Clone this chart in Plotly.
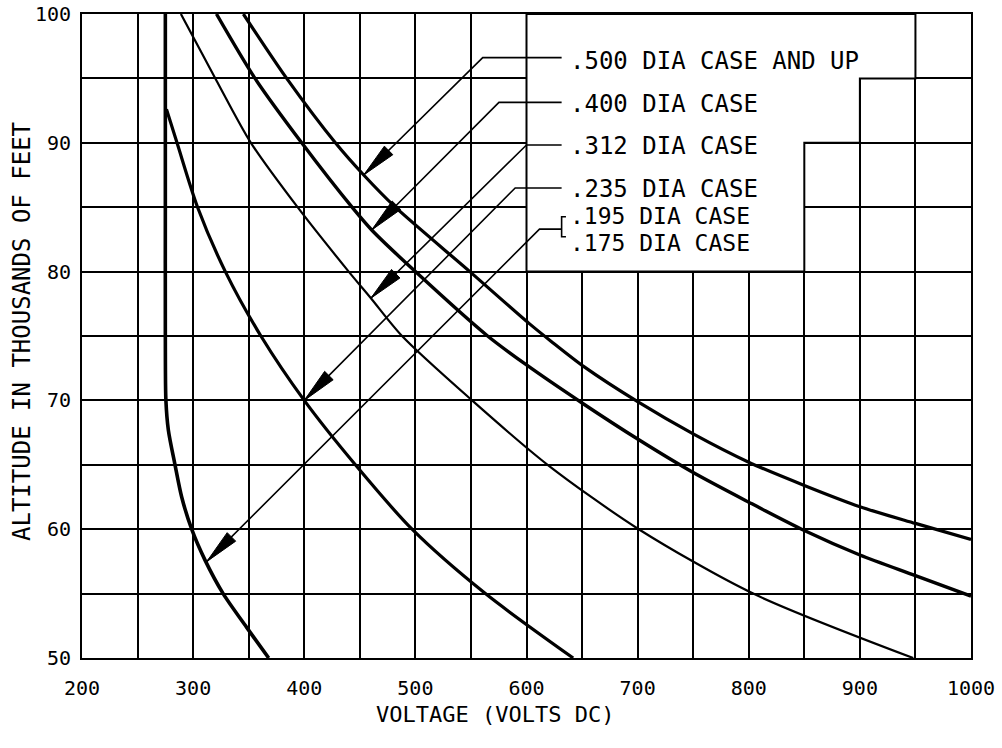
import plotly.graph_objects as go

# ---------------- data (voltage in V DC, altitude in thousands of feet) -------------
v_195 = [275, 275, 275, 275.5, 277.7, 283.7, 289.7, 298.7, 310.7, 327, 348, 368]
a_195 = [100, 85, 75, 70, 67.7, 65, 62.5, 60, 57.6, 55, 52.4, 50]

v_235 = [276, 285.5, 304, 329, 361, 400, 446, 497, 563, 642]
a_235 = [92.6, 90, 85, 80, 75, 70, 65, 60, 55, 50]

v_312 = [289, 320, 352, 394, 440, 460, 488, 551, 619, 701, 804, 948]
a_312 = [100, 95, 90, 85, 80, 77.93, 75, 70, 65, 60, 55, 50]

v_400 = [321, 355.7, 397.7, 443, 460.7, 500, 565, 600, 650, 700, 750, 800, 850, 900, 950, 1000]
a_400 = [100, 95, 90, 85, 83.23, 80, 75, 72.75, 69.8, 67.0, 64.4, 62.1, 59.9, 58.0, 56.4, 54.8]

v_500 = [345.2, 384.2, 428, 453.5, 482, 549, 602, 622, 652, 700, 750, 800, 850, 900, 950, 1000]
a_500 = [100, 95, 90, 87.5, 85, 80, 76, 74.6, 72.6, 69.9, 67.4, 65.2, 63.4, 61.75, 60.45, 59.2]

# callout leaders
lead_labels = [".500 DIA CASE AND UP", ".400 DIA CASE", ".312 DIA CASE", ".235 DIA CASE"]
lead_tip_v = [453.5, 460.7, 459.9, 400]
lead_tip_a = [87.5, 83.23, 77.93, 70]
lead_knee_v = [560.6, 575.2, 600, 589.8]
lead_knee_a = [96.61, 93.14, 89.83, 86.49]
lead_label_a = [96.35, 93.05, 89.75, 86.45]
lead_end_v = 631.6
label_v = 637.3

bracket_labels = [".195 DIA CASE", ".175 DIA CASE"]
bracket_label_a = [84.33, 82.2]
bracket_tip = (312.2, 57.48)
bracket_knee = (611.7, 83.3)
bracket_v = 631.6
bracket_tick_v = 635.5
bracket_top_a = 84.26
bracket_bot_a = 82.71

# blank (grid-free) staircase region in upper right
blank_v = [600, 600, 850, 850, 900, 900, 950, 950, 600]
blank_a = [100, 80, 80, 90, 90, 95, 95, 100, 100]

x_ticks = [200, 300, 400, 500, 600, 700, 800, 900, 1000]
y_ticks = [50, 60, 70, 80, 90, 100]

# ---------------- layout geometry ----------------
W, H = 1002, 748
ML, MR, MT, MB = 82, 31, 14, 90
PW, PH = W - ML - MR, H - MT - MB
X0, X1, Y0, Y1 = 200, 1000, 50, 100
SX = PW / (X1 - X0)
SY = PH / (Y1 - Y0)

FONT = "DejaVu Sans Mono"
INK = "black"

fig = go.Figure()

# blank area (covers grid lines)
fig.add_trace(go.Scatter(x=blank_v, y=blank_a, mode="lines", fill="toself",
                         fillcolor="white", line=dict(color=INK, width=2),
                         hoverinfo="skip", showlegend=False))


def curve(v, a, w):
    fig.add_trace(go.Scatter(x=v, y=a, mode="lines",
                             line=dict(color=INK, width=w, shape="spline", smoothing=0.8),
                             hoverinfo="skip", showlegend=False))


curve(v_195, a_195, 3.6)
curve(v_235, a_235, 3.2)
curve(v_312, a_312, 2.2)
curve(v_400, a_400, 3.4)
curve(v_500, a_500, 3.2)


def arrowhead(tip, knee, length=35, half=6):
    # computed in pixel space, converted back to data units
    tx, ty = tip[0] * SX, tip[1] * SY
    kx, ky = knee[0] * SX, knee[1] * SY
    dx, dy = kx - tx, ky - ty
    n = (dx * dx + dy * dy) ** 0.5
    ux, uy = dx / n, dy / n
    bx, by = tx + ux * length, ty + uy * length
    px, py = -uy, ux
    pts = [(tx, ty), (bx + px * half, by + py * half), (bx - px * half, by - py * half), (tx, ty)]
    return [p[0] / SX for p in pts], [p[1] / SY for p in pts]


def line(xs, ys, w=1.6):
    fig.add_trace(go.Scatter(x=xs, y=ys, mode="lines", line=dict(color=INK, width=w),
                             hoverinfo="skip", showlegend=False))


def head(tip, knee):
    hx, hy = arrowhead(tip, knee)
    fig.add_trace(go.Scatter(x=hx, y=hy, mode="lines", fill="toself", fillcolor=INK,
                             line=dict(color=INK, width=1), hoverinfo="skip", showlegend=False))


annotations = []
for lab, tv, ta, kv, ka, la in zip(lead_labels, lead_tip_v, lead_tip_a,
                                   lead_knee_v, lead_knee_a, lead_label_a):
    line([tv, kv, lead_end_v], [ta, ka, ka])
    head((tv, ta), (kv, ka))
    annotations.append(dict(x=label_v, y=la, xref="x", yref="y", text=lab, showarrow=False,
                            xanchor="left", yanchor="middle",
                            font=dict(family=FONT, size=24, color=INK)))

# bracket leader
line([bracket_tip[0], bracket_knee[0], bracket_v], [bracket_tip[1], bracket_knee[1], bracket_knee[1]])
line([bracket_tick_v, bracket_v, bracket_v, bracket_tick_v],
     [bracket_top_a, bracket_top_a, bracket_bot_a, bracket_bot_a])
head(bracket_tip, bracket_knee)
for lab, la in zip(bracket_labels, bracket_label_a):
    annotations.append(dict(x=label_v, y=la, xref="x", yref="y", text=lab, showarrow=False,
                            xanchor="left", yanchor="middle",
                            font=dict(family=FONT, size=23, color=INK)))

# axis titles
annotations.append(dict(x=(495 - ML) / PW, y=-(714 - (MT + PH)) / PH, xref="paper", yref="paper",
                        text="VOLTAGE (VOLTS DC)", showarrow=False, xanchor="center", yanchor="middle",
                        font=dict(family=FONT, size=22, color=INK)))
annotations.append(dict(x=(22 - ML) / PW, y=(MT + PH - 332) / PH, xref="paper", yref="paper",
                        text="ALTITUDE IN THOUSANDS OF FEET", showarrow=False, textangle=-90,
                        xanchor="center", yanchor="middle",
                        font=dict(family=FONT, size=24, color=INK)))

fig.update_layout(
    width=W, height=H, autosize=False,
    margin=dict(l=ML, r=MR, t=MT, b=MB, pad=0, autoexpand=False),
    paper_bgcolor="white", plot_bgcolor="white",
    annotations=annotations,
    xaxis=dict(range=[X0, X1], tickvals=x_ticks, ticktext=[str(v) for v in x_ticks],
               automargin=False,
               showgrid=True, gridcolor=INK, gridwidth=2,
               minor=dict(dtick=50, showgrid=True, gridcolor=INK, gridwidth=2),
               showline=True, linecolor=INK, linewidth=2, mirror=True,
               ticks="", ticklabelstandoff=11, zeroline=False,
               tickfont=dict(family=FONT, size=20, color=INK)),
    yaxis=dict(range=[Y0, Y1], tickvals=y_ticks, ticktext=[str(v) for v in y_ticks],
               automargin=False,
               showgrid=True, gridcolor=INK, gridwidth=2,
               minor=dict(dtick=5, showgrid=True, gridcolor=INK, gridwidth=2),
               showline=True, linecolor=INK, linewidth=2, mirror=True,
               ticks="", ticklabelstandoff=5, zeroline=False,
               tickfont=dict(family=FONT, size=20, color=INK)),
)

fig.write_html("out.html", config={"displayModeBar": False},
               post_script="document.body.style.margin='0';")
